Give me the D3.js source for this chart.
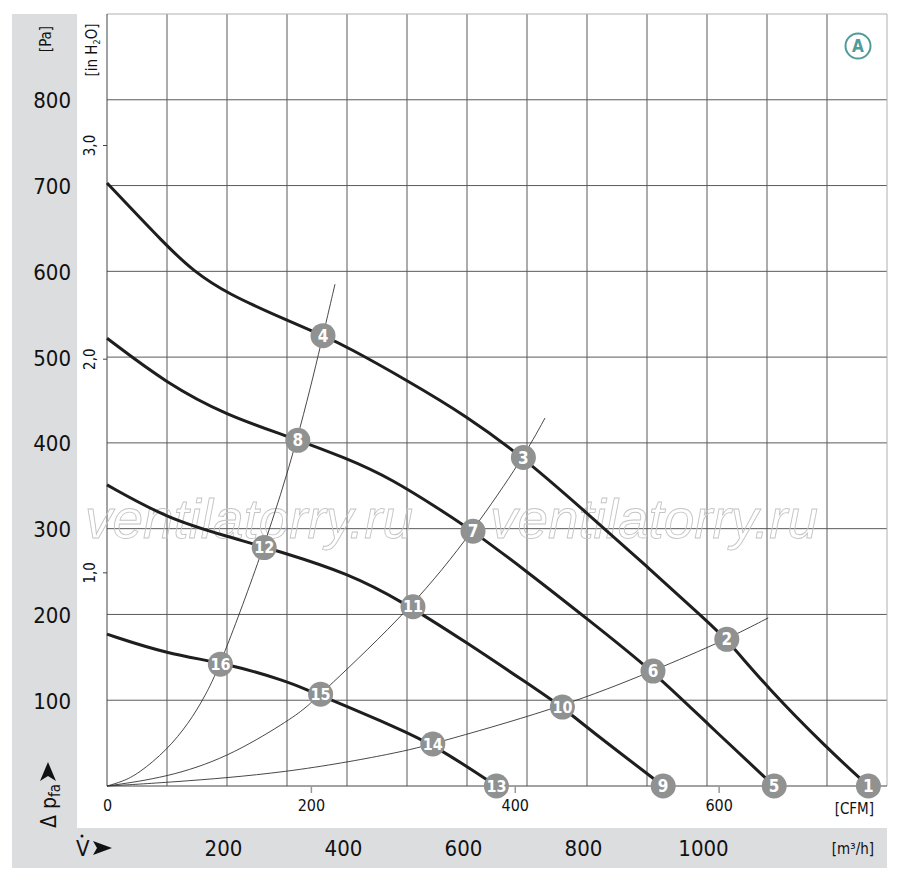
<!DOCTYPE html>
<html>
<head>
<meta charset="utf-8">
<script src="https://cdn.jsdelivr.net/npm/d3@7"></script>
<style>
body { margin:0; background:#fff; }
svg { display:block; }
text { font-family:"Liberation Sans Narrow","Arial Narrow","DejaVu Sans Condensed",sans-serif; }
</style>
</head>
<body>
<div id="chart"></div>
<script>
// fan curves, [m3/h, Pa]
var curve1 = [[0,703],[100,629],[143,601],[200,574],[300,543],[360,525],[400,512],[500,473],[600,431],[694,383],[800,318],[900,256],[1000,192],[1033,171],[1100,115],[1200,44],[1269,0]];
var curve2 = [[0,522],[100,469],[200,432],[300,408],[400,382],[472,359],[567,317],[610,297],[700,250],[800,195],[910,134],[1000,73],[1112,0]];
var curve3 = [[0,351],[100,312],[200,291],[300,271],[400,248],[488,217],[600,167],[700,120],[759,92],[800,68],[927,0]];
var curve4 = [[0,177],[100,154],[200,143],[300,122],[330,113],[400,93],[472,71],[543,49],[649,0]];
// system curves
var sys1 = [[0,0],[25,5],[52,14],[100,42],[136,73],[163,104],[189,141],[262,278],[318,403],[360,525],[380,585]];
var sys2 = [[0,0],[100,10],[200,33],[300,75],[331,91],[356,107],[510,209],[610,297],[694,383],[730,429]];
var sys3 = [[0,0],[100,4],[300,15],[488,39],[543,49],[759,92],[910,134],[1033,171],[1102,196]];
// numbered operating points
var pointIds = [1,2,3,4,5,6,7,8,9,10,11,12,13,14,15,16];
var pointQ = [1269,1033,694,360,1112,910,610,318,927,759,510,262,649,543,356,189];
var pointP = [0,171,383,525,0,134,297,403,0,92,209,278,0,49,107,142];
// axes
var paTicks = [100,200,300,400,500,600,700,800];
var m3hTicks = [200,400,600,800,1000];
var cfmTicks = [0,200,400,600];
var inH2OTicks = [1,2,3];

var W = 900, H = 886;
var x = d3.scaleLinear().domain([0,1300]).range([107,887]);
var y = d3.scaleLinear().domain([0,900]).range([786,14]);
var xc = d3.scaleLinear().domain([0,1300/1.699]).range([107,887]);
var yi = d3.scaleLinear().domain([0,900/249.09]).range([786,14]);
var labelFont = "'Liberation Sans Narrow','DejaVu Sans Condensed',sans-serif";

var svg = d3.select("#chart").append("svg").attr("width",W).attr("height",H);

// grey panels
svg.append("rect").attr("x",12).attr("y",14).attr("width",65).attr("height",854).attr("fill","#dcdddf");
svg.append("rect").attr("x",77).attr("y",828).attr("width",810).attr("height",40).attr("fill","#dcdddf");

// grid
var gGrid = svg.append("g");
gGrid.selectAll("line.v").data(d3.range(100,1300,100)).enter().append("line")
    .attr("x1",function(d){ return x(d);}).attr("x2",function(d){ return x(d);})
    .attr("y1",y(900)).attr("y2",y(0)).attr("stroke","#5a5a5a").attr("stroke-width",1);
gGrid.selectAll("line.h").data(paTicks).enter().append("line")
    .attr("x1",x(0)).attr("x2",x(1300))
    .attr("y1",function(d){ return y(d);}).attr("y2",function(d){ return y(d);})
    .attr("stroke","#5a5a5a").attr("stroke-width",1);
gGrid.append("line").attr("x1",x(0)).attr("x2",x(1300)).attr("y1",y(900)).attr("y2",y(900)).attr("stroke","#b0b0b0");
gGrid.append("line").attr("x1",x(1300)).attr("x2",x(1300)).attr("y1",y(900)).attr("y2",y(0)).attr("stroke","#b0b0b0");
gGrid.append("line").attr("x1",x(0)).attr("x2",x(0)).attr("y1",y(900)).attr("y2",y(0)).attr("stroke","#444");
gGrid.append("line").attr("x1",x(0)).attr("x2",x(1300)).attr("y1",y(0)).attr("y2",y(0)).attr("stroke","#444");

// watermark
svg.selectAll("text.wm").data([85,490]).enter().append("text")
    .attr("x",function(d){ return d;}).attr("y",538)
    .attr("font-size",55).attr("font-style","italic")
    .style("font-family","'Liberation Sans',sans-serif")
    .attr("textLength",328).attr("lengthAdjust","spacingAndGlyphs")
    .attr("fill","none").attr("stroke","#c4c4c4").attr("stroke-width",0.9)
    .text("ventilatorry.ru");

// Pa axis
var aPa = svg.append("g").attr("transform","translate(71,0)")
    .call(d3.axisLeft(y).tickValues(paTicks).tickSize(0).tickPadding(0));
aPa.select(".domain").remove();
aPa.selectAll("text").attr("font-size",22).attr("fill","#111").attr("dy","0.36em").style("font-family",labelFont);

// in H2O axis
var aIn = svg.append("g").attr("transform","translate(107,0)")
    .call(d3.axisLeft(yi).tickValues(inH2OTicks).tickSize(4).tickFormat(function(d){ return d.toFixed(1).replace(".",","); }));
aIn.select(".domain").remove();
aIn.selectAll("line").attr("stroke","#444");
aIn.selectAll("text").attr("font-size",15).attr("fill","#111")
    .attr("x",0).attr("dy",0).attr("text-anchor","middle")
    .attr("transform","translate(-12,0) rotate(-90)")
    .style("font-family",labelFont);

// CFM axis
var aC = svg.append("g").attr("transform","translate(0,786)")
    .call(d3.axisBottom(xc).tickValues(cfmTicks).tickSize(7).tickPadding(7));
aC.select(".domain").remove();
aC.selectAll("line").attr("stroke","#999").attr("stroke-width",1.5);
aC.selectAll(".tick").filter(function(d){ return d==0;}).select("line").remove();
aC.selectAll("text").attr("font-size",16).attr("fill","#111").style("font-family",labelFont);
svg.append("text").attr("x",874).attr("y",814).attr("text-anchor","end").attr("font-size",15).attr("fill","#111").text("[CFM]");

// m3/h axis
var aM = svg.append("g").attr("transform","translate(-4,848)")
    .call(d3.axisBottom(x).tickValues(m3hTicks).tickSize(0).tickPadding(0).tickFormat(d3.format("d")));
aM.select(".domain").remove();
aM.selectAll("text").attr("font-size",22).attr("fill","#111").attr("dy","0.36em").style("font-family",labelFont);
svg.append("text").attr("x",874).attr("y",854).attr("text-anchor","end").attr("font-size",15).attr("fill","#111").text("[m³/h]");

// V-dot + arrow
svg.append("text").attr("x",76).attr("y",856).attr("font-size",22).attr("fill","#111").text("V");
svg.append("circle").attr("cx",82).attr("cy",836).attr("r",1.5).attr("fill","#111");
svg.append("path").attr("d","M93,841 L112,848 L93,855 L97,848 Z").attr("fill","#111");

// unit labels on left
svg.append("text").attr("transform","translate(51,39) rotate(-90)").attr("text-anchor","middle").attr("font-size",15).attr("fill","#111").text("[Pa]");
var tIn = svg.append("text").attr("transform","translate(97,50) rotate(-90)").attr("text-anchor","middle").attr("font-size",15).attr("fill","#111");
tIn.append("tspan").text("[in H");
tIn.append("tspan").attr("font-size",9).attr("dy",3).text("2");
tIn.append("tspan").attr("dy",-3).text("O]");

// delta p label
var tP = svg.append("text").attr("transform","translate(56,828) rotate(-90)").attr("font-size",21).attr("fill","#111");
tP.append("tspan").text("Δ p");
tP.append("tspan").attr("font-size",15).attr("dy",4).text("fa");
svg.append("path").attr("d","M40,781 L48,762 L56,781 L48,776 Z").attr("fill","#111");

// lines (basis smoothing to iron out reading noise)
var line = d3.line().x(function(d){ return x(d[0]);}).y(function(d){ return y(d[1]);}).curve(d3.curveBasis);
svg.append("g").selectAll("path").data([sys1,sys2,sys3]).enter().append("path")
    .attr("d",line).attr("fill","none").attr("stroke","#333").attr("stroke-width",0.9);
svg.append("g").selectAll("path").data([curve1,curve2,curve3,curve4]).enter().append("path")
    .attr("d",line).attr("fill","none").attr("stroke","#1e1e1e").attr("stroke-width",3);

// numbered markers
var gPts = svg.append("g").selectAll("g").data(pointIds).enter().append("g")
    .attr("transform",function(d,i){ return "translate("+x(pointQ[i])+","+y(pointP[i])+")";});
gPts.append("circle").attr("r",12.5).attr("fill","#909191");
gPts.append("text").attr("text-anchor","middle").attr("dy","0.36em")
    .attr("font-size",function(d){ return d>9 ? 16 : 17;}).attr("font-weight","bold").attr("fill","#fff")
    .text(function(d){ return d;});

// A badge
svg.append("circle").attr("cx",858).attr("cy",46).attr("r",12.5).attr("fill","none").attr("stroke","#4f9c98").attr("stroke-width",2);
svg.append("text").attr("x",858).attr("y",46).attr("dy","0.36em").attr("text-anchor","middle")
    .attr("font-size",17).attr("font-weight","bold").attr("fill","#4f9c98").text("A");
</script>
</body>
</html>
